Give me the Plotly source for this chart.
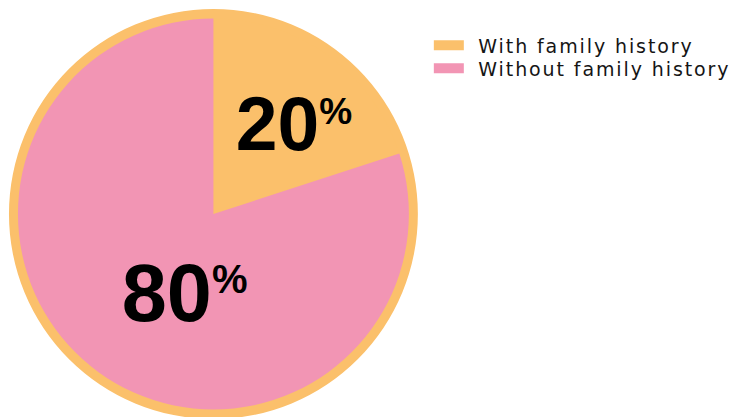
import plotly.graph_objects as go

labels = ["With family history", "Without family history"]
values = [20, 80]
colors = ["#FBC06B", "#F295B4"]
ring_color = "#FBC06B"

W, H = 736, 417
cx, cy, r_in, r_out = 214, 214, 196, 205
# label layer: same slices, drawn transparently, slightly offset
tx, ty, r_txt = cx + 9, cy + 9, 194

pct = "<span style='font-size:68px'><sup><span style='font-size:40px'>%</span></sup></span>"
trail = {20: "", 80: "<span style='font-size:68px'>\u00a0\u00a0\u00a0\u00a0</span>"}
pie_text = [f"{v}{pct}{trail[v]}" for v in values]

common = dict(labels=labels, values=values, sort=False, direction="clockwise",
              rotation=0, showlegend=False, hoverinfo="skip")

fig = go.Figure()
fig.add_trace(go.Pie(
    **common, textinfo="none",
    marker=dict(colors=colors, line=dict(width=0)),
    domain=dict(x=[(cx - r_in) / W, (cx + r_in) / W],
                y=[(H - cy - r_in) / H, (H - cy + r_in) / H]),
))
fig.add_trace(go.Pie(
    **common, text=pie_text,
    textinfo="text", textposition="inside", insidetextorientation="horizontal",
    marker=dict(colors=["rgba(0,0,0,0)"] * len(values), line=dict(width=0)),
    textfont=dict(family="Liberation Sans", size=81, color="black", weight="bold"),
    domain=dict(x=[(tx - r_txt) / W, (tx + r_txt) / W],
                y=[(H - ty - r_txt) / H, (H - ty + r_txt) / H]),
))

legend_ids = ["legend", "legend2"]
legend_centers = [45.5, 68.5]
for lab, col, lid in zip(labels, colors, legend_ids):
    fig.add_trace(go.Scatter(
        x=[None], y=[None], mode="lines", legend=lid,
        name=f"\u2002<span style='letter-spacing:1.9px'>{lab}</span>",
        line=dict(color=col, width=13)))

fig.add_shape(type="circle", xref="paper", yref="paper", layer="below",
              x0=(cx - r_out) / W, x1=(cx + r_out) / W,
              y0=(H - cy - r_out) / H, y1=(H - cy + r_out) / H,
              fillcolor=ring_color, line=dict(width=0))

leg_common = dict(x=430 / W, xanchor="left", yanchor="middle",
                  font=dict(family="DejaVu Sans", size=19, color="#151515"),
                  itemwidth=30, bgcolor="rgba(0,0,0,0)")

fig.update_layout(
    width=W, height=H, margin=dict(l=0, r=0, t=0, b=0),
    paper_bgcolor="white", plot_bgcolor="white",
    xaxis=dict(visible=False), yaxis=dict(visible=False),
    legend=dict(y=1 - legend_centers[0] / H, **leg_common),
    legend2=dict(y=1 - legend_centers[1] / H, **leg_common),
)
fig.write_html("out.html")
